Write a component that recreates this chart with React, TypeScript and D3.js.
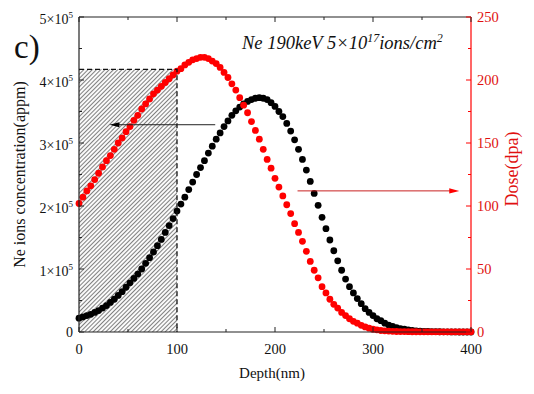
import React from "react";
import * as d3 from "d3";

// Depth grid (nm)
const depth = [
  0, 4, 8, 12, 16, 20, 24, 28, 32, 36, 40, 44, 48, 52, 56, 60, 64, 68, 72, 76,
  80, 84, 88, 92, 96, 100, 104, 108, 112, 116, 120, 124, 128, 132, 136, 140, 144, 148, 152, 156,
  160, 164, 168, 172, 176, 180, 184, 188, 192, 196, 200, 204, 208, 212, 216, 220, 224, 228, 232, 236,
  240, 244, 248, 252, 256, 260, 264, 268, 272, 276, 280, 284, 288, 292, 296, 300, 304, 308, 312, 316,
  320, 324, 328, 332, 336, 340, 344, 348, 352, 356, 360, 364, 368, 372, 376, 380, 384, 388, 392, 396, 400,
];

// Ne ions concentration (x10^5 appm)
const concentration = [
  0.22, 0.24, 0.26, 0.28, 0.31, 0.34, 0.38, 0.42, 0.47, 0.52,
  0.58, 0.64, 0.71, 0.78, 0.85, 0.92, 1.0, 1.09, 1.18, 1.27,
  1.37, 1.47, 1.58, 1.69, 1.8, 1.92, 2.03, 2.14, 2.26, 2.38,
  2.5, 2.61, 2.72, 2.84, 2.95, 3.06, 3.16, 3.26, 3.35, 3.44,
  3.51, 3.57, 3.62, 3.66, 3.69, 3.71, 3.72, 3.71, 3.69, 3.64,
  3.58, 3.5, 3.42, 3.31, 3.19, 3.05, 2.9, 2.74, 2.57, 2.39,
  2.2, 2.01, 1.82, 1.64, 1.46, 1.29, 1.13, 0.98, 0.84, 0.72,
  0.62, 0.53, 0.45, 0.37, 0.31, 0.26, 0.21, 0.18, 0.14, 0.11,
  0.09, 0.07, 0.055, 0.045, 0.035, 0.025, 0.019, 0.014, 0.011, 0.008,
  0.006, 0.005, 0.004, 0.003, 0.002, 0.001, 0.001, 0, 0, 0,
  0,
];

// Dose (dpa)
const dose = [
  102, 107, 112, 116, 121, 126, 131, 136, 140, 145,
  150, 154, 159, 163, 168, 172, 177, 181, 185, 189,
  192, 195, 198, 201, 204, 207, 209, 212, 214, 216,
  217, 218, 218, 217, 215, 213, 210, 206, 202, 197,
  192, 186, 180, 174, 167, 160, 153, 145, 137, 130,
  122, 115, 108, 101, 94, 86, 79, 72, 64, 56,
  49, 43, 36, 31, 26, 22, 19, 15.5, 13, 10.5,
  8.5, 7, 5.3, 4, 3, 2.2, 1.7, 1.2, 0.9, 0.7,
  0.5, 0.4, 0.35, 0.3, 0.25, 0.2, 0.2, 0.15, 0.15, 0.1,
  0.1, 0.1, 0.1, 0.1, 0.1, 0.1, 0.1, 0.1, 0.1, 0.1,
  0.1,
];

const xTicks = [0, 100, 200, 300, 400];
const xMinor = [50, 150, 250, 350];
const leftTicks = [0, 1, 2, 3, 4, 5];
const leftMinor = [0.5, 1.5, 2.5, 3.5, 4.5];
const rightTicks = [0, 50, 100, 150, 200, 250];
const rightMinor = [25, 75, 125, 175, 225];

// Annotations (data coordinates)
const boxDepth = 100;
const boxConc = 4.17;
const blackArrow = { from: 139, to: 31, conc: 3.29 };
const redArrow = { from: 223, to: 388, dose: 112 };

const FONT = "'Liberation Serif', 'Times New Roman', serif";
const RED = "#ff0000";
const RED_TEXT = "#e01010";

export default function App() {
  const W = 534, H = 394;
  const x = d3.scaleLinear().domain([0, 400]).range([79, 471]);
  const yL = d3.scaleLinear().domain([0, 5]).range([332, 17]);
  const yR = d3.scaleLinear().domain([0, 250]).range([332, 17]);
  const [x0, x1] = x.range();
  const [yb, yt] = yL.range();
  const major = 5, minor = 3;

  const ba = { x1: x(blackArrow.from), x2: x(blackArrow.to), y: yL(blackArrow.conc) };
  const ra = { x1: x(redArrow.from), x2: x(redArrow.to), y: yR(redArrow.dose) };

  return (
    <svg width={W} height={H} style={{ position: "absolute", left: 0, top: 0, background: "#fff" }} fontFamily={FONT}>
      <defs>
        <pattern id="hatch" patternUnits="userSpaceOnUse" width={3} height={3} patternTransform="rotate(45)">
          <rect width={3} height={3} fill="#fafafa" />
          <line x1={0.5} y1={0} x2={0.5} y2={3} stroke="#6a6a6a" strokeWidth={0.85} />
        </pattern>
      </defs>

      {/* hatched region */}
      <rect x={x(0)} y={yL(boxConc)} width={x(boxDepth) - x(0)} height={yL(0) - yL(boxConc)} fill="url(#hatch)" />

      {/* series */}
      <g fill="#000">
        {depth.map((d, i) => (
          <circle key={"b" + i} cx={x(d)} cy={yL(concentration[i])} r={3.4} />
        ))}
      </g>
      <g fill={RED}>
        {depth.map((d, i) => (
          <circle key={"r" + i} cx={x(d)} cy={yR(dose[i])} r={3.4} />
        ))}
      </g>

      {/* dashed box */}
      <path
        d={`M${x(0)},${yL(boxConc)} H${x(boxDepth)} V${yL(0)}`}
        fill="none" stroke="#111" strokeWidth={1.3} strokeDasharray="5,3"
      />

      {/* arrows */}
      <line x1={ba.x1} y1={ba.y} x2={ba.x2 + 8} y2={ba.y} stroke="#222" strokeWidth={1} />
      <path d={`M${ba.x2},${ba.y} L${ba.x2 + 10},${ba.y - 2.6} L${ba.x2 + 10},${ba.y + 2.6} Z`} fill="#000" />
      <line x1={ra.x1} y1={ra.y} x2={ra.x2 - 8} y2={ra.y} stroke="#c82020" strokeWidth={1} />
      <path d={`M${ra.x2},${ra.y} L${ra.x2 - 10},${ra.y - 2.6} L${ra.x2 - 10},${ra.y + 2.6} Z`} fill={RED} />

      {/* axes frame */}
      <line x1={x0} y1={yt} x2={x1} y2={yt} stroke="#222" strokeWidth={1.2} />
      <line x1={x0} y1={yb} x2={x1} y2={yb} stroke="#222" strokeWidth={1.2} />
      <line x1={x0} y1={yt} x2={x0} y2={yb} stroke="#222" strokeWidth={1.2} />
      <line x1={x1} y1={yt} x2={x1} y2={yb} stroke={RED} strokeWidth={1.2} />

      {/* x ticks (bottom and top) */}
      {xTicks.map((t) => (
        <g key={"xt" + t}>
          <line x1={x(t)} x2={x(t)} y1={yb} y2={yb - major} stroke="#222" />
          <line x1={x(t)} x2={x(t)} y1={yt} y2={yt + major} stroke="#222" />
          <text x={x(t)} y={yb + 22} textAnchor="middle" fontSize={14.5} fill="#111">{t}</text>
        </g>
      ))}
      {xMinor.map((t) => (
        <g key={"xm" + t}>
          <line x1={x(t)} x2={x(t)} y1={yb} y2={yb - minor} stroke="#222" />
          <line x1={x(t)} x2={x(t)} y1={yt} y2={yt + minor} stroke="#222" />
        </g>
      ))}

      {/* left ticks */}
      {leftTicks.map((t) => (
        <g key={"lt" + t}>
          <line x1={x0} x2={x0 + major} y1={yL(t)} y2={yL(t)} stroke="#222" />
          {t === 0 ? (
            <text x={x0 - 6} y={yL(t) + 4.5} textAnchor="end" fontSize={14} fill="#111">0</text>
          ) : (
            <text x={x0 - 6} y={yL(t) + 6.5} textAnchor="end" fontSize={14} fill="#111">
              {`${t}×10`}
              <tspan fontSize={9} dy={-6}>5</tspan>
            </text>
          )}
        </g>
      ))}
      {leftMinor.map((t) => (
        <line key={"lm" + t} x1={x0} x2={x0 + minor} y1={yL(t)} y2={yL(t)} stroke="#222" />
      ))}

      {/* right ticks */}
      {rightTicks.map((t) => (
        <g key={"rt" + t}>
          <line x1={x1} x2={x1 - major} y1={yR(t)} y2={yR(t)} stroke={RED} />
          <text x={x1 + 6} y={yR(t) + 5} textAnchor="start" fontSize={14.5} fill={RED_TEXT}>{t}</text>
        </g>
      ))}
      {rightMinor.map((t) => (
        <line key={"rm" + t} x1={x1} x2={x1 - minor} y1={yR(t)} y2={yR(t)} stroke={RED} />
      ))}

      {/* axis titles */}
      <text x={(x0 + x1) / 2 - 3} y={378} textAnchor="middle" fontSize={15} fill="#111">Depth(nm)</text>
      <text transform={`translate(25,${(yb + yt) / 2}) rotate(-90)`} textAnchor="middle" fontSize={16} fill="#111">
        Ne ions concentration(appm)
      </text>
      <text transform={`translate(518,169) rotate(-90)`} textAnchor="middle" fontSize={18} fill={RED_TEXT}>
        Dose(dpa)
      </text>

      {/* panel label & title */}
      <text x={14} y={58} fontSize={33} fill="#111">c)</text>
      <text x={242} y={49} fontSize={18.5} fontStyle="italic" fill="#111">
        Ne 190keV 5×10
        <tspan fontSize={12} dy={-7}>17</tspan>
        <tspan dy={7}>ions/cm</tspan>
        <tspan fontSize={12} dy={-7}>2</tspan>
      </text>
    </svg>
  );
}
